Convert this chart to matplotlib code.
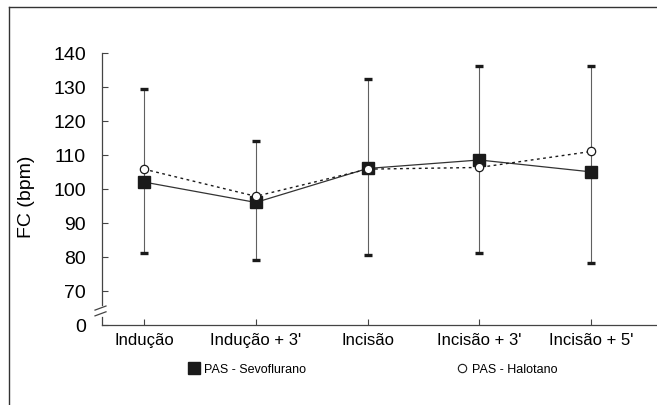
import numpy as np
import matplotlib.pyplot as plt
from matplotlib.lines import Line2D

plt.rcParams['font.family'] = ['Liberation Sans', 'DejaVu Sans']

# momentos avaliados
momentos = ['Indução', 'Indução + 3\'', 'Incisão', 'Incisão + 3\'', 'Incisão + 5\'']

# frequência cardíaca média (bpm)
fc_sevo = [102.0, 96.0, 106.0, 108.5, 105.0]
fc_halo = [105.8, 97.8, 105.8, 106.3, 111.0]

# limites das barras de erro (sevoflurano)
fc_min = [81.0, 79.0, 80.6, 81.0, 78.1]
fc_max = [129.3, 114.1, 132.3, 136.3, 136.3]

# eixo y quebrado: o "0" ocupa a posição do 60
y_ticks = [60, 70, 80, 90, 100, 110, 120, 130, 140]
y_labels = ['0', '70', '80', '90', '100', '110', '120', '130', '140']

W, H = 657, 406
fig = plt.figure(figsize=(W / 100, H / 100), dpi=100)
ax = fig.add_axes([102 / W, 1 - 325.7 / H, 1 - 102 / W, (325.7 - 54) / H])

x = np.arange(len(momentos))
sevo = np.array(fc_sevo)
err = [sevo - np.array(fc_min), np.array(fc_max) - sevo]

eb = ax.errorbar(x, sevo, yerr=err, fmt='none', ecolor='#606060', elinewidth=0.8,
                 capsize=3, capthick=2.4, zorder=2)
for cap in eb[1]:
    cap.set_markeredgecolor('#1a1a1a')
    cap.set_markerfacecolor('#1a1a1a')

ax.plot(x, fc_sevo, color='#333333', lw=0.9, marker='s', ms=8, mfc='#1a1a1a',
        mec='#1a1a1a', zorder=3)
ax.plot(x, fc_halo, color='#1a1a1a', lw=1.0, ls=(0, (2, 2.5)), marker='o', ms=6,
        mfc='white', mec='#1a1a1a', mew=0.9, zorder=4)

ax.set_xlim(-0.376, 4.59)
ax.set_ylim(60, 140)
ax.set_xticks(x)
ax.set_xticklabels(momentos, fontsize=12)
ax.set_yticks(y_ticks)
ax.set_yticklabels(y_labels, fontsize=14)
ax.tick_params(axis='both', direction='in', length=4.5, width=0.8, color='#444444')
ax.tick_params(axis='y', pad=11.5)
ax.tick_params(axis='x', pad=5)

ax.set_ylabel('FC (bpm)', fontsize=14)
ax.yaxis.set_label_coords(-0.121, 0.474)

for s in ['top', 'right']:
    ax.spines[s].set_visible(False)
for s in ['left', 'bottom']:
    ax.spines[s].set_color('#444444')
    ax.spines[s].set_linewidth(0.9)
ax.spines['left'].set_bounds(65.9, 140)

# trecho inferior do eixo y e marcas de quebra
yt = ax.get_yaxis_transform()
ax.plot([0, 0], [60, 62.3], transform=yt, color='#444444', lw=0.9, clip_on=False)
ax.plot([-0.0126, 0.0072], [64.3, 65.5], transform=yt, color='#444444', lw=0.9, clip_on=False)
ax.plot([-0.0126, 0.0072], [62.6, 63.8], transform=yt, color='#444444', lw=0.9, clip_on=False)

# legenda
handles = [Line2D([], [], ls='none', marker='s', ms=8, mfc='#1a1a1a', mec='#1a1a1a'),
           Line2D([], [], ls='none', marker='o', ms=6, mfc='white', mec='#1a1a1a', mew=0.8)]
fig.legend(handles, ['PAS - Sevoflurano', 'PAS - Halotano'], ncol=2, frameon=False,
           loc='center left', bbox_to_anchor=(181 / W, 1 - 370.5 / H), fontsize=9,
           borderpad=0, handlelength=1.0, handletextpad=0.3, columnspacing=12.0)

# moldura
fig.add_artist(Line2D([9 / W, 9 / W], [0, 1 - 8 / H], transform=fig.transFigure,
                      color='#333333', lw=1.0))
fig.add_artist(Line2D([9 / W, 1], [1 - 8 / H, 1 - 8 / H], transform=fig.transFigure,
                      color='#333333', lw=1.0))

fig.savefig('out.png', dpi=100)
